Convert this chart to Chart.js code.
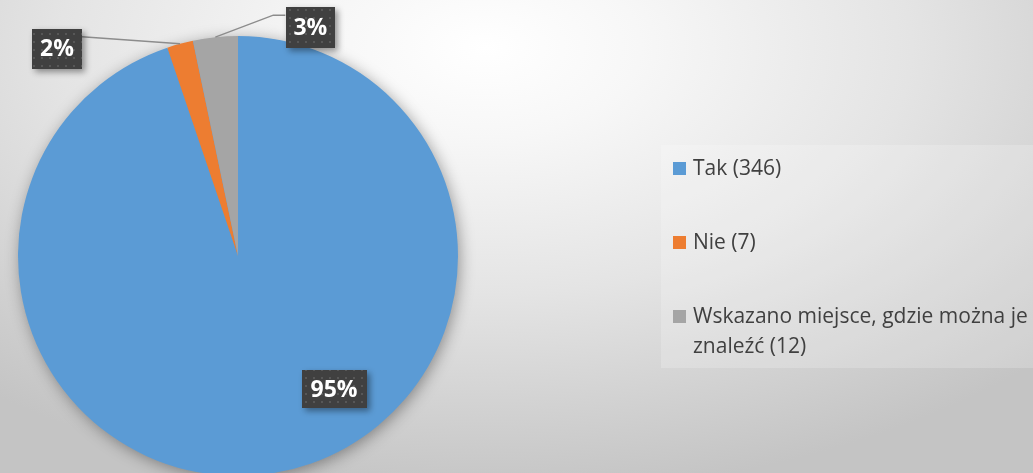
<!DOCTYPE html>
<html lang="pl">
<head>
<meta charset="utf-8">
<script src="https://cdn.jsdelivr.net/npm/chart.js@4/dist/chart.umd.min.js"></script>
<style>
    html, body { margin: 0; padding: 0; width: 1033px; height: 473px; overflow: hidden; }
    body { background: radial-gradient(ellipse 75% 95% at 47% 10%, #ffffff 0%, #f7f7f7 20%, #e4e4e4 55%, #d2d2d2 80%, #c4c4c4 100%); }
    #wrap { position: relative; width: 1033px; height: 500px; }
</style>
</head>
<body>
<div id="wrap"><canvas id="pieChart"></canvas></div>
<script>
// Dane
const categories = ['Tak', 'Nie', 'Wskazano miejsce, gdzie można je znaleźć'];
const counts = [346, 7, 12];
const colors = ['#5B9BD5', '#ED7D31', '#A5A5A5'];

const total = counts.reduce((a, b) => a + b, 0);
const percentLabels = counts.map(v => Math.round(v / total * 100) + '%');
const legendLabels = categories.map((c, i) => c + ' (' + counts[i] + ')');

// Wzór kropek na etykietach
function dotPattern(ctx) {
    const c = document.createElement('canvas');
    c.width = 8; c.height = 8;
    const p = c.getContext('2d');
    p.fillStyle = '#404040';
    p.fillRect(0, 0, 8, 8);
    p.fillStyle = '#575757';
    p.fillRect(1, 1, 2, 2);
    return ctx.createPattern(c, 'repeat');
}

// Cień pod wykresem
const pieShadow = {
    id: 'pieShadow',
    beforeDatasetsDraw(chart) {
        const arc = chart.getDatasetMeta(0).data[0];
        if (!arc) return;
        const ctx = chart.ctx;
        ctx.save();
        ctx.shadowColor = 'rgba(0,0,0,0.4)';
        ctx.shadowBlur = 16;
        ctx.shadowOffsetX = 2;
        ctx.shadowOffsetY = 3;
        ctx.fillStyle = colors[0];
        ctx.beginPath();
        ctx.arc(arc.x, arc.y, arc.outerRadius - 1, 0, Math.PI * 2);
        ctx.fill();
        ctx.restore();
    }
};

// Etykiety z procentami (pozycje wzgledem punktu na krawedzi wycinka)
const labelSpots = [
    { dx: 96, dy: 133, fromCenter: true, w: 65, h: 38 },
    { dx: -123, dy: 5, w: 50, h: 40, attach: [25, -12] },
    { dx: 95, dy: -10, w: 49, h: 41, attach: [-25, -12], elbow: 12 }
];

const pctLabels = {
    id: 'pctLabels',
    afterDatasetsDraw(chart) {
        const ctx = chart.ctx;
        const pattern = dotPattern(ctx);
        chart.getDatasetMeta(0).data.forEach((arc, i) => {
            const s = labelSpots[i];
            const mid = (arc.startAngle + arc.endAngle) / 2;
            const ex = arc.x + Math.cos(mid) * arc.outerRadius;
            const ey = arc.y + Math.sin(mid) * arc.outerRadius;
            const cx = s.fromCenter ? arc.x + s.dx : ex + s.dx;
            const cy = s.fromCenter ? arc.y + s.dy : ey + s.dy;

            ctx.save();
            if (s.attach) {
                const ax = cx + s.attach[0];
                const ay = cy + s.attach[1];
                ctx.strokeStyle = '#8c8c8c';
                ctx.lineWidth = 1.5;
                ctx.beginPath();
                ctx.moveTo(ax, ay);
                if (s.elbow) ctx.lineTo(ax - s.elbow, ay);
                ctx.lineTo(ex, ey);
                ctx.stroke();
            }
            ctx.shadowColor = 'rgba(0,0,0,0.4)';
            ctx.shadowBlur = 6;
            ctx.shadowOffsetX = 3;
            ctx.shadowOffsetY = 3;
            ctx.fillStyle = pattern;
            ctx.fillRect(Math.round(cx - s.w / 2), Math.round(cy - s.h / 2), s.w, s.h);
            ctx.restore();

            ctx.save();
            ctx.fillStyle = '#ffffff';
            ctx.font = 'bold 23px "Open Sans"';
            ctx.textAlign = 'center';
            ctx.textBaseline = 'middle';
            ctx.fillText(percentLabels[i], cx, cy + 1);
            ctx.restore();
        });
    }
};

// Legenda po prawej
const sideLegend = {
    id: 'sideLegend',
    afterDraw(chart) {
        const ctx = chart.ctx;
        ctx.save();
        ctx.fillStyle = 'rgba(255,255,255,0.2)';
        ctx.fillRect(661, 145, 372, 223);
        ctx.font = '21px "Open Sans"';
        ctx.textBaseline = 'middle';
        const maxW = 340;
        let y = 168;
        legendLabels.forEach((txt, i) => {
            ctx.fillStyle = colors[i];
            ctx.fillRect(673, y - 6, 13, 13);
            // zawijanie tekstu
            const words = txt.split(' ');
            const lines = [];
            let line = '';
            words.forEach(w => {
                const test = line ? line + ' ' + w : w;
                if (ctx.measureText(test).width > maxW && line) {
                    lines.push(line);
                    line = w;
                } else {
                    line = test;
                }
            });
            lines.push(line);
            ctx.fillStyle = '#404040';
            lines.forEach((l, k) => ctx.fillText(l, 693, y + 1 + k * 30));
            y += 74;
        });
        ctx.restore();
    }
};

new Chart(document.getElementById('pieChart'), {
    type: 'pie',
    data: {
        labels: categories,
        datasets: [{
            data: counts,
            backgroundColor: colors,
            borderWidth: 0
        }]
    },
    options: {
        responsive: true,
        maintainAspectRatio: false,
        animation: false,
        layout: { padding: { left: 18, right: 575, top: 36, bottom: 24 } },
        plugins: {
            legend: { display: false },
            tooltip: { enabled: false }
        }
    },
    plugins: [pieShadow, pctLabels, sideLegend]
});
</script>
</body>
</html>
